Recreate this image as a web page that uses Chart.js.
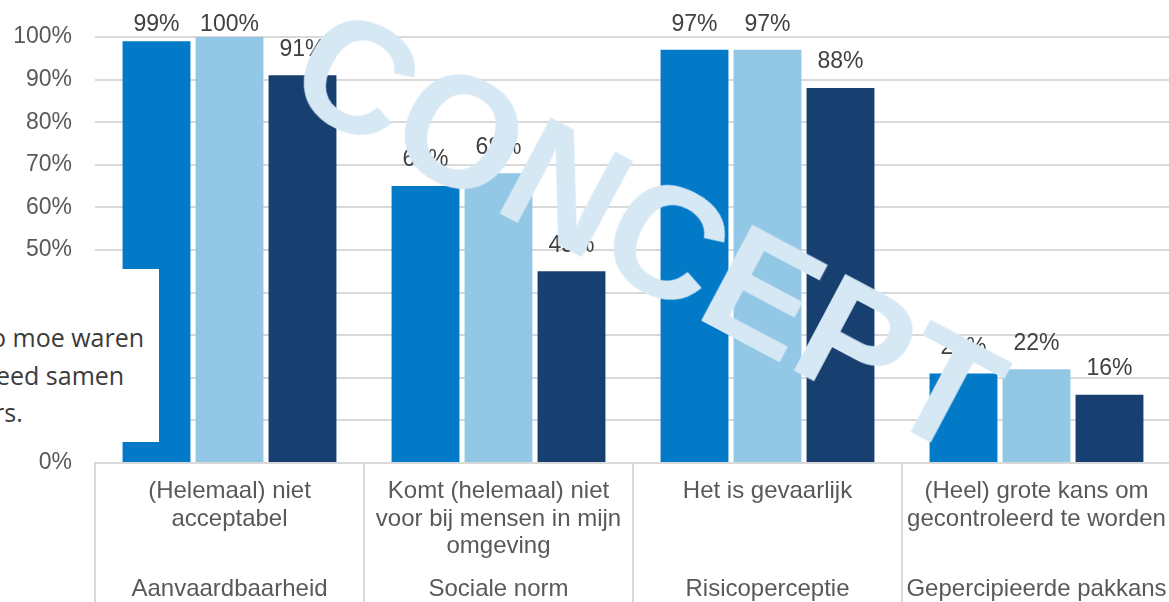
<!DOCTYPE html>
<html>
<head>
<meta charset="utf-8">
<script src="https://cdn.jsdelivr.net/npm/chart.js@4.4.0/dist/chart.umd.min.js"></script>
<style>
  html, body { margin: 0; padding: 0; background: #fff; overflow: hidden; }
  #wrap { position: relative; width: 1171px; height: 602px; }
  #note {
    position: absolute; left: 0; top: 269px; width: 159px; height: 173px;
    background: #fff; overflow: hidden;
    font-family: "Open Sans", sans-serif; font-size: 25px; color: #3b3b3b;
  }
  #note span { position: absolute; white-space: nowrap; line-height: 1; }
  #stamp {
    position: absolute; left: 648px; top: 230px;
    transform: translate(-50%, -50%) rotate(28deg);
    font-family: "Liberation Sans", Arial, sans-serif; font-size: 158px; font-weight: bold;
    line-height: 1; color: #d7e8f5; white-space: nowrap; pointer-events: none;
  }
</style>
</head>
<body>
<div id="wrap">
  <canvas id="chart" width="1171" height="602"></canvas>
  <div id="note">
    <span style="left:-9px; top:56px;">o moe waren</span>
    <span style="left:-4px; top:94px;">eed samen</span>
    <span style="left:-6px; top:131px;">rs.</span>
  </div>
  <div id="stamp">CONCEPT</div>
</div>
<script>
// categories (two levels) and values in %
const categories = [
  ["(Helemaal) niet", "acceptabel"],
  ["Komt (helemaal) niet", "voor bij mensen in mijn", "omgeving"],
  ["Het is gevaarlijk"],
  ["(Heel) grote kans om", "gecontroleerd te worden"]
];
const groups = ["Aanvaardbaarheid", "Sociale norm", "Risicoperceptie", "Gepercipieerde pakkans"];
const series1 = [99, 65, 97, 21];
const series2 = [100, 68, 97, 22];
const series3 = [91, 45, 88, 16];
const yTicks = [0, 10, 20, 30, 40, 50, 60, 70, 80, 90, 100];

const colors = ["#027ac8", "#92c8e5", "#174071"];
const gridColor = "#d9d9d9";
const font = "'Liberation Sans', Arial, sans-serif";

// value labels above the bars
const barLabels = {
  id: "barLabels",
  afterDatasetsDraw(chart) {
    const ctx = chart.ctx;
    ctx.save();
    ctx.font = "23px " + font;
    ctx.fillStyle = "#404040";
    ctx.textAlign = "center";
    ctx.textBaseline = "middle";
    chart.data.datasets.forEach((ds, i) => {
      chart.getDatasetMeta(i).data.forEach((bar, j) => {
        ctx.fillText(ds.data[j] + "%", bar.x, Math.max(bar.y - 26, 24.5));
      });
    });
    ctx.restore();
  }
};

new Chart(document.getElementById("chart"), {
  type: "bar",
  data: {
    labels: categories,
    datasets: [
      { label: "1", data: series1, backgroundColor: colors[0] },
      { label: "2", data: series2, backgroundColor: colors[1] },
      { label: "3", data: series3, backgroundColor: colors[2] }
    ]
  },
  options: {
    responsive: false,
    animation: false,
    devicePixelRatio: 1,
    categoryPercentage: 0.814,
    barPercentage: 0.93,
    layout: { padding: { top: 37, right: 0, left: 0, bottom: 0 } },
    plugins: { legend: { display: false }, tooltip: { enabled: false } },
    scales: {
      y: {
        min: 0, max: 100,
        afterFit(scale) { scale.width = 95; },
        afterBuildTicks(scale) { scale.ticks = yTicks.map(v => ({ value: v })); },
        border: { display: false },
        grid: { color: gridColor, lineWidth: 2, drawTicks: false },
        ticks: {
          padding: 23,
          color: "#595959",
          font: { family: font, size: 23 },
          callback: v => v + "%"
        }
      },
      x: {
        afterFit(scale) { scale.height = 97; },
        border: { display: true, color: gridColor, width: 2 },
        grid: { offset: true, drawOnChartArea: false, color: gridColor, lineWidth: 2, tickLength: 97 },
        ticks: {
          autoSkip: false, maxRotation: 0, minRotation: 0,
          padding: -82.5,
          color: "#595959",
          font: { family: font, size: 24, lineHeight: 1.15 }
        }
      },
      x2: {
        type: "category",
        position: "bottom",
        labels: groups,
        offset: true,
        afterFit(scale) { scale.height = 42; },
        border: { display: false },
        grid: { offset: true, drawOnChartArea: false, color: gridColor, lineWidth: 2, tickLength: 42 },
        ticks: {
          autoSkip: false, maxRotation: 0, minRotation: 0,
          padding: -26,
          color: "#595959",
          font: { family: font, size: 24, lineHeight: 1.15 }
        }
      }
    }
  },
  plugins: [barLabels]
});
</script>
</body>
</html>
